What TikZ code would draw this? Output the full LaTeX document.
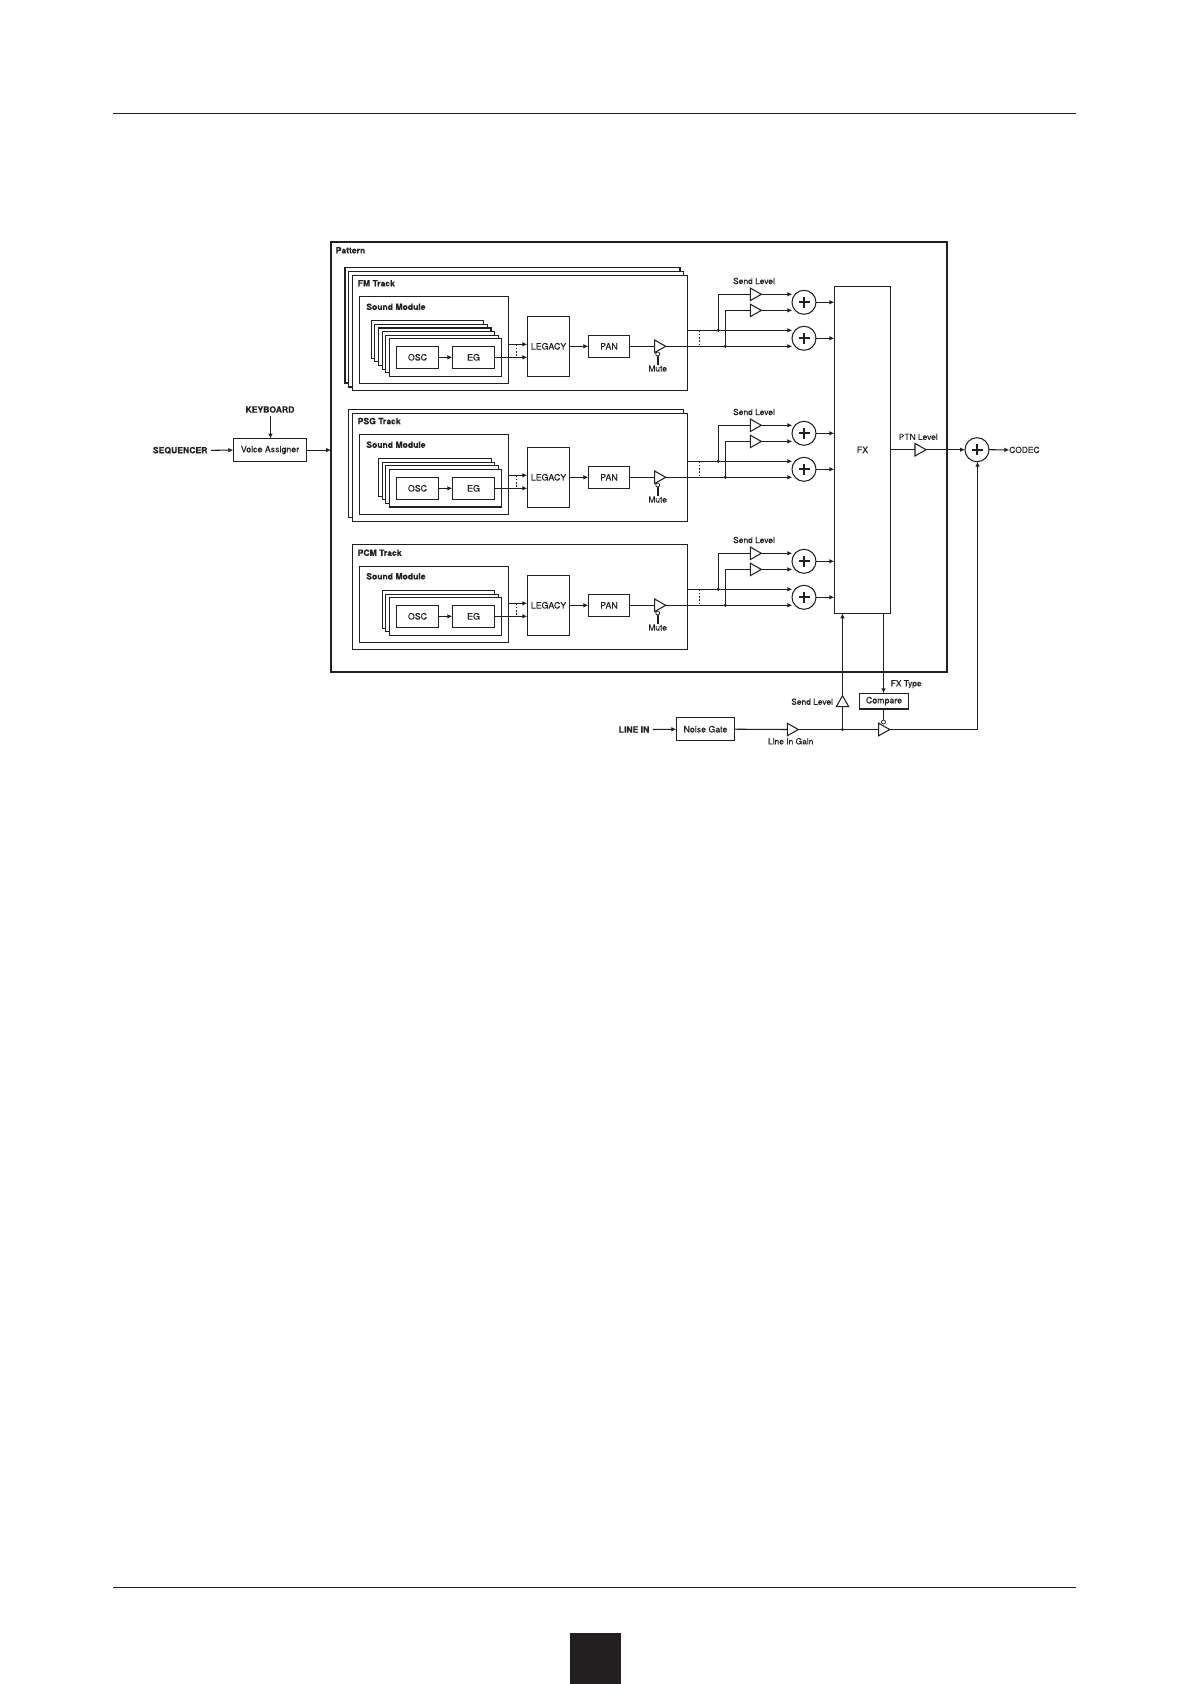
\documentclass[tikz,border=0pt]{standalone}
\usepackage{fontspec}
\setmainfont{TeX Gyre Heros}[FakeBold=0.12]
\usetikzlibrary{arrows.meta,shapes.geometric,calc}
\definecolor{ink}{HTML}{231F20}
\tikzset{
  x=1pt,y=-1pt,
  every node/.style={inner sep=0pt,outer sep=0pt,text=ink},
  base/.style={line width=1.05pt,draw=ink},
  box/.style={base,rectangle,anchor=north west,fill=white,font=\fontsize{8.8}{10}\selectfont},
  wire/.style={line width=1.05pt,draw=ink},
  arr/.style={wire,-{Latex[length=5pt,width=4.6pt]}},
  tap/.style={line width=1pt,draw=ink,dash pattern=on 1.8pt off 1.5pt},
  amp/.style={base,fill=white,isosceles triangle,isosceles triangle apex angle=60,isosceles triangle stretches,minimum width=12.5pt,minimum height=11pt,anchor=lower side},
  ampup/.style={amp,shape border rotate=90},
  bubble/.style={base,circle,fill=white,minimum size=4pt,line width=0.75pt},
  dot/.style={circle,fill=ink,minimum size=3.3pt},
  adder/.style={base,circle,minimum size=24pt,fill=white,
    path picture={\draw[line width=1.9pt,draw=ink]
      ([xshift=-5.5pt]path picture bounding box.center)--([xshift=5.5pt]path picture bounding box.center)
      ([yshift=-5.5pt]path picture bounding box.center)--([yshift=5.5pt]path picture bounding box.center);}},
  lab/.style={font=\fontsize{8.4}{10}\selectfont},
  boldlab/.style={font=\fontsize{8.6}{10}\selectfont\bfseries},
}
% suffix, y offset
\newcommand{\trackcore}[2]{%
  \begin{scope}[shift={(0,#2)}]
    \node[box,minimum width=42.4pt,minimum height=22pt] (osc#1) at (396.3,346.3) {OSC};
    \node[box,minimum width=42.4pt,minimum height=22pt] (eg#1) at (452.3,346.3) {EG};
    \node[box,minimum width=42.4pt,minimum height=60pt] (leg#1) at (527.3,316.3) {LEGACY};
    \node[box,minimum width=41.4pt,minimum height=22pt] (pan#1) at (588.3,335.3) {PAN};
    \node[amp] (mute#1) at (654.7,346.3) {};
    \node[bubble] (mb#1) at (657.7,354) {};
    \node[lab,anchor=north] (mutel#1) at (657.7,365.4) {Mute};
    \node[amp] (sa#1) at (750.3,294.3) {};
    \node[amp] (sb#1) at (750.3,310.4) {};
    \node[lab] (sl#1) at (754,281) {Send Level};
    \node[adder] (aa#1) at (804,302.3) {};
    \node[adder] (ab#1) at (804,338.3) {};
    \coordinate (u1#1) at (508.5,344.3);
    \coordinate (u2#1) at (527.3,344.3);
    \coordinate (l1#1) at (501.7,357.3);
    \coordinate (l2#1) at (527.3,357.3);
    \coordinate (t1#1) at (516.3,344.3);
    \coordinate (t2#1) at (516.3,357.3);
    \coordinate (oa#1) at (687.7,330.3);
    \coordinate (d1#1) at (699.3,330.3);
    \coordinate (d2#1) at (699.3,346.3);
    \coordinate (ea#1) at (792.3,330.3);
    \coordinate (eb#1) at (792.3,346.3);
    \coordinate (fa#1) at (834.3,302.3);
    \coordinate (fb#1) at (834.3,338.3);
    \coordinate (ga#1) at (792.3,294.3);
    \coordinate (gb#1) at (792.3,310.4);
    \coordinate (ja#1) at (718.3,330.3);
    \coordinate (jb#1) at (725.3,346.3);
  \end{scope}
  \draw[arr] (osc#1) -- (eg#1);
  \draw[wire] (eg#1.east) -- (l1#1);
  \draw[arr] (l1#1) -- (l2#1);
  \draw[arr] (u1#1) -- (u2#1);
  \draw[tap] (t1#1) -- (t2#1);
  \draw[arr] (leg#1.east |- pan#1.west) -- (pan#1.west);
  \draw[wire] (pan#1.east) -- (mute#1.lower side);
  \draw[line width=1.6pt,draw=ink] (mb#1.south) -- (mb#1.south |- mutel#1.north);
  \draw[arr] (oa#1) -- (ea#1);
  \draw[arr] (mute#1.apex) -- (eb#1);
  \draw[tap] (d1#1) -- (d2#1);
  \draw[wire] (ja#1) |- (sa#1.lower side);
  \draw[wire] (jb#1) |- (sb#1.lower side);
  \node[dot] (da#1) at (ja#1) {};
  \node[dot] (db#1) at (jb#1) {};
  \draw[arr] (sa#1.apex) -- (ga#1);
  \draw[arr] (sb#1.apex) -- (gb#1);
  \draw[arr] (aa#1.east) -- (fa#1);
  \draw[arr] (ab#1.east) -- (fb#1);
}
% voice stack: y offset, list of offset/line width
\newcommand{\cards}[2]{%
  \foreach \c/\w in {#2} {
    \path[draw=ink,line width=\w pt,fill=white] ($(389.3,338.7+#1)+(-\c,-\c)$) rectangle +(112.4,37.6);
  }
}
\begin{document}
\begin{tikzpicture}
\useasboundingbox (0,0) rectangle (1191,1684);
% page furniture
\draw[line width=1.3pt,draw=ink] (113,113.3) -- (1076,113.3);
\draw[line width=1.3pt,draw=ink] (113,1587.3) -- (1076,1587.3);
\fill[ink] (570,1633) rectangle (621,1684);
% pattern
\node[box,line width=1.1pt,fill=none,minimum width=616pt,minimum height=430pt] (pattern) at (331,242) {};
\draw[line width=1.5pt,draw=ink] (pattern.north west) -- (pattern.north east);
\node[boldlab,anchor=west] (patl) at (335.7,250.3) {Pattern};
% FM
\foreach \l/\t/\r/\b/\w in {344.7/267.7/680/383/1.3, 348.7/271.7/683.7/387/1.05, 352.7/275.3/687.7/390.3/1.05}
  \draw[draw=ink,line width=\w pt,fill=white] (\l,\t) rectangle (\r,\b);
\draw[line width=1.9pt,draw=ink] (344.7,267.7) -- (344.7,383);
\draw[base,fill=white] (348.7,271.7) rectangle (683.7,387);
\draw[base,fill=white] (352.7,275.3) rectangle (687.7,390.3);
\node[boldlab,anchor=west] (fml) at (357.7,283.3) {FM Track};
\draw[base] (359.3,296.3) rectangle (508.7,383.3);
\node[boldlab,anchor=west] (sm1) at (366.3,306.8) {Sound Module};
\cards{0}{18/1.05,14.4/1.05,10.8/1.35,7.2/1.05,3.6/1.05,0/1.35}
\trackcore{fm}{0}
% PSG
\foreach \l/\t/\r/\b in {348.7/409.3/683.7/517.3, 352.7/413.3/687.7/521.3}
  \draw[base,fill=white] (\l,\t) rectangle (\r,\b);
\node[boldlab,anchor=west] (psgl) at (357.7,421.1) {PSG Track};
\draw[base] (359.3,434.3) rectangle (508.7,514.3);
\node[boldlab,anchor=west] (sm2) at (366.3,444.7) {Sound Module};
\cards{130.6}{10.6/1.05,7/1.05,3.5/1.05,0/1.35}
\trackcore{psg}{131}
% PCM
\draw[base,fill=white] (352.7,544.3) rectangle (687.7,649.3);
\node[boldlab,anchor=west] (pcml) at (357.7,552.7) {PCM Track};
\draw[base] (359.3,566.3) rectangle (508.7,642.3);
\node[boldlab,anchor=west] (sm3) at (366.3,576.3) {Sound Module};
\cards{259}{7/1.05,3.5/1.05,0/1.35}
\trackcore{pcm}{259}
% FX
\node[box,minimum width=56.4pt,minimum height=327pt] (fx) at (834.3,286.3) {FX};
% input side
\node[box,minimum width=73.4pt,minimum height=23pt] (va) at (233.3,438.6) {Voice Assigner};
\node[boldlab,anchor=east] (seq) at (207.5,450.3) {SEQUENCER};
\node[boldlab] (kbd) at (270,409.5) {KEYBOARD};
\coordinate (patin) at (331,450);
\draw[arr] (seq.east) ++(3.5,0) -- (va.west);
\draw[arr] ([xshift=.5pt,yshift=-3pt]kbd.south) -- ([xshift=.5pt]va.north);
\draw[arr] (va.east) -- (va.east -| patin);
% output side
\node[amp] (ptn) at (915,449.7) {};
\node[lab] (ptnl) at (918.3,436.9) {PTN Level};
\node[adder] (mix) at (977,449.7) {};
\node[lab,anchor=west] (codec) at (1009.3,449.9) {CODEC};
\draw[wire] (fx.east |- ptn.lower side) -- (ptn.lower side);
\draw[arr] (ptn.apex) -- (mix.west);
\draw[arr] (mix.east) -- (codec.west);
% line in
\node[boldlab,anchor=east] (linein) at (649.3,729.5) {LINE IN};
\node[box,minimum width=58.4pt,minimum height=23pt] (ng) at (676.3,717.7) {Noise Gate};
\node[amp] (lg) at (787.3,729.5) {};
\node[lab] (lgl) at (790.7,741.3) {Line In Gain};
\node[ampup] (su) at (842.5,706.7) {};
\node[lab,anchor=east] (sul) at (833,701.7) {Send Level};
\node[box,minimum width=49.4pt,minimum height=15.5pt] (cmp) at (859.3,693.3) {Compare};
\draw[line width=1.5pt,draw=ink] (cmp.south west) -- (cmp.south east);
\node[lab,anchor=west] (fxt) at (890.7,684.2) {FX Type};
\node[amp] (cs) at (878.7,729.5) {};
\node[bubble] (cb) at (883.5,722) {};
\coordinate (jl) at (842.5,729.5);
\coordinate (cx) at (883.5,693.3);
\draw[arr] (linein.east) ++(3.5,0) -- (ng.west);
\draw[wire] (ng.east) -- (lg.lower side);
\draw[wire] (lg.apex) -- (cs.lower side);
\draw[wire] (jl) -- (su.lower side);
\node[dot] (jd) at (jl) {};
\draw[arr] (su.apex) -- (jl |- fx.south);
\draw[arr] (cx |- fx.south) -- (cx);
\draw[wire] (cx |- cmp.south) -- (cb.north);
\coordinate (up) at (977.5,729.5);
\draw[wire] (cs.apex) -- (up);
\draw[arr] (up) -- ([xshift=.5pt]mix.south);
\end{tikzpicture}
\end{document}
